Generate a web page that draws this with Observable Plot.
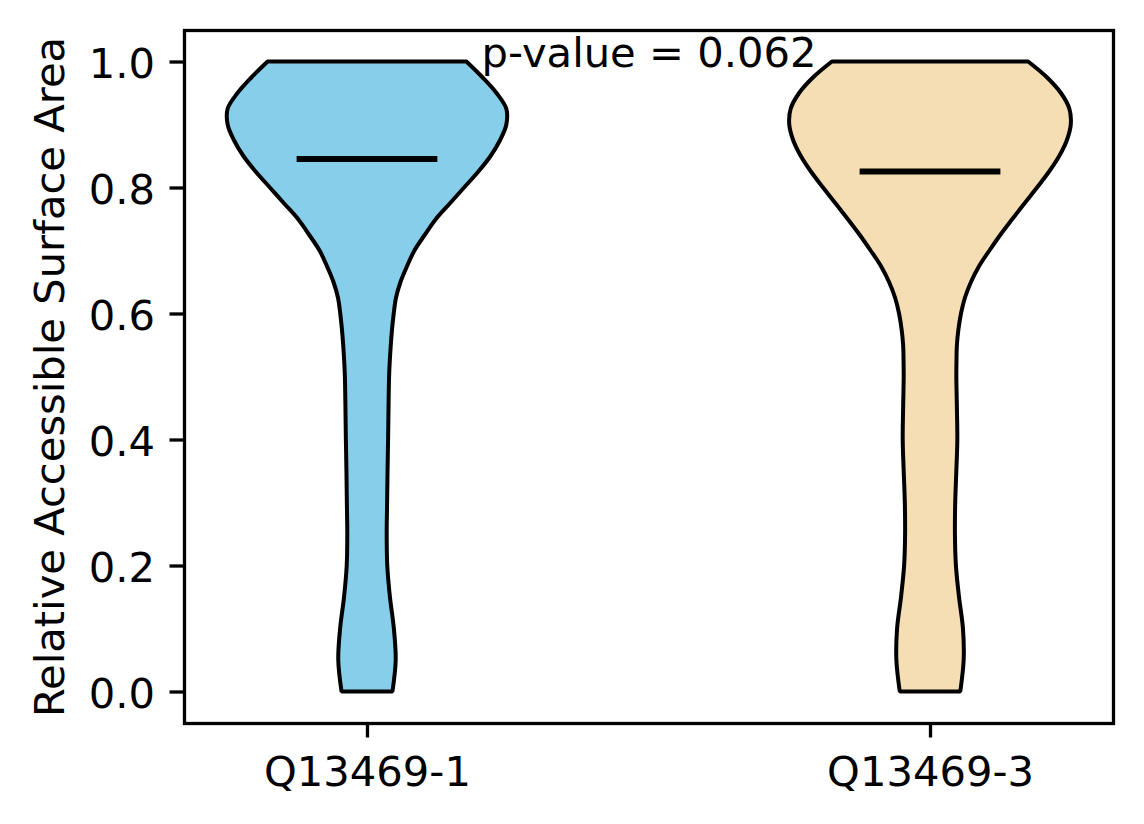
<!DOCTYPE html>
<html>
<head>
<meta charset="utf-8">
<script src="https://cdn.jsdelivr.net/npm/d3@7"></script>
<script src="https://cdn.jsdelivr.net/npm/@observablehq/plot@0.6"></script>
<style>
  html, body { margin: 0; padding: 0; background: #fff; }
  svg { display: block; }
</style>
</head>
<body>
<div id="chart"></div>
<script>
// ---- Data ----
const categories = ["Q13469-1", "Q13469-3"];
const positions = [1, 2];
const fills = ["#87CEEB", "#F5DEB3"];
const rsaLevels = [0, 0.05, 0.1, 0.15, 0.2, 0.25, 0.3, 0.35, 0.4, 0.45, 0.5, 0.525, 0.55, 0.575, 0.6, 0.625, 0.65, 0.675, 0.7, 0.725, 0.75, 0.775, 0.8, 0.825, 0.85, 0.875, 0.9, 0.925, 0.95, 0.975, 1.0];
const densityQ1 = [0.181, 0.204, 0.191, 0.163, 0.144, 0.140, 0.143, 0.146, 0.150, 0.153, 0.157, 0.162, 0.169, 0.178, 0.190, 0.206, 0.238, 0.284, 0.337, 0.411, 0.490, 0.590, 0.690, 0.790, 0.878, 0.945, 0.990, 0.990, 0.920, 0.820, 0.706];
const densityQ3 = [0.215, 0.239, 0.234, 0.206, 0.184, 0.177, 0.179, 0.187, 0.194, 0.191, 0.187, 0.188, 0.191, 0.202, 0.220, 0.248, 0.291, 0.348, 0.422, 0.500, 0.585, 0.672, 0.760, 0.845, 0.918, 0.972, 1.000, 0.990, 0.930, 0.830, 0.697];
const medians = [0.846, 0.826];
const yTicks = [0.0, 0.2, 0.4, 0.6, 0.8, 1.0];
const yLabel = "Relative Accessible Surface Area";
const pValueText = "p-value = 0.062";

// ---- Options ----
const violinWidth = 0.5;
const halfWidth = violinWidth / 2;
const medianHalf = violinWidth / 4;
const FS = 41.67;

const densities = [densityQ1, densityQ3];
const violinRows = [];
categories.forEach((c, i) => {
  densities[i].forEach((d, j) => {
    violinRows.push({cat: c, pos: positions[i], rsa: rsaLevels[j], density: d});
  });
});
const medianRows = categories.map((c, i) => ({cat: c, pos: positions[i], median: medians[i]}));
const annotation = [{x: d3.mean(positions), y: d3.max(rsaLevels), text: pValueText}];

const chart = Plot.plot({
  width: 1144,
  height: 824,
  marginLeft: 184,
  marginRight: 31,
  marginTop: 30,
  marginBottom: 101,
  style: {fontFamily: "'DejaVu Sans', sans-serif", background: "white", color: "black", overflow: "visible"},
  x: {domain: [0.675, 2.325], axis: null},
  y: {domain: [-0.05, 1.05], axis: null},
  color: {domain: categories, range: fills},
  marks: [
    Plot.areaX(violinRows, {
      y: "rsa",
      x1: d => d.pos - d.density * halfWidth,
      x2: d => d.pos + d.density * halfWidth,
      z: "cat",
      fill: "cat",
      stroke: "black",
      strokeWidth: 4,
      strokeLinejoin: "miter",
      curve: "catmull-rom"
    }),
    Plot.ruleY(medianRows, {
      y: "median",
      x1: d => d.pos - medianHalf,
      x2: d => d.pos + medianHalf,
      stroke: "black",
      strokeWidth: 6
    }),
    Plot.text(annotation, {
      x: "x", y: "y", text: "text",
      fontSize: FS, textAnchor: "middle", lineAnchor: "bottom", dy: 5.4, fill: "black"
    }),
    Plot.frame({stroke: "black", strokeWidth: 3.3}),
    Plot.axisY(yTicks, {tickSize: 14.5, strokeWidth: 3.3, tickFormat: () => "", label: null}),
    Plot.axisY(yTicks, {tickSize: 0, tickPadding: 29.5, tickFormat: d => d.toFixed(1), fontSize: FS, dy: 3, label: null, fill: "black"}),
    Plot.axisX(positions, {tickSize: 14.5, strokeWidth: 3.3, tickFormat: () => "", label: null}),
    Plot.axisX(positions, {tickSize: 0, tickPadding: 32.5, tickFormat: d => categories[positions.indexOf(d)], fontSize: FS, label: null, fill: "black"}),
    Plot.text([yLabel], {
      frameAnchor: "left", rotate: -90, dx: -121,
      fontSize: FS, textAnchor: "middle", lineAnchor: "bottom", fill: "black"
    })
  ]
});
document.getElementById("chart").appendChild(chart);
</script>
</body>
</html>
